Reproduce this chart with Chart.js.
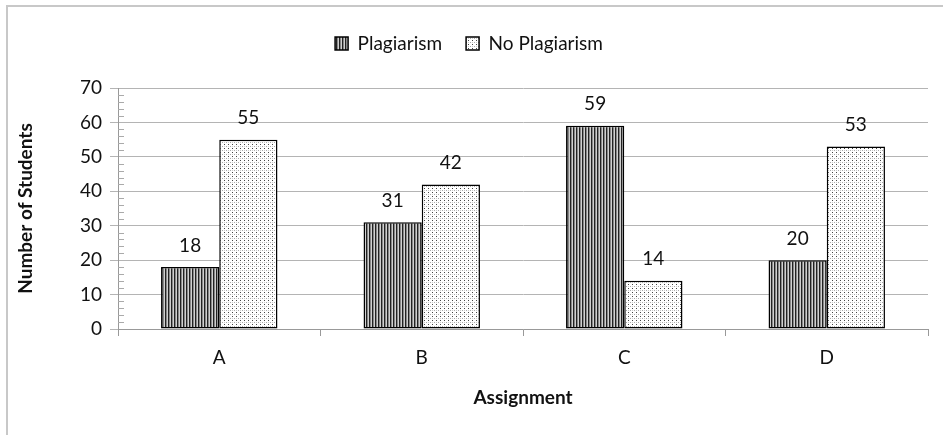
<!DOCTYPE html>
<html>
<head>
<meta charset="utf-8">
<script src="https://cdn.jsdelivr.net/npm/chart.js@4.4.1/dist/chart.umd.min.js"></script>
<style>
  html, body { margin: 0; padding: 0; background: #fff; }
  #wrap { width: 943px; height: 435px; }
</style>
</head>
<body>
<div id="wrap"><canvas id="chart" width="943" height="435"></canvas></div>
<script>
// --- dados ---
const assignments = ['A', 'B', 'C', 'D'];
const plagiarism = [18, 31, 59, 20];
const noPlagiarism = [55, 42, 14, 53];
const yTicks = [0, 10, 20, 30, 40, 50, 60, 70];

const FONT = 'Lato, "Open Sans", sans-serif';
const FS = 19;

// padrão listrado (Plagiarism)
function stripePattern() {
    const c = document.createElement('canvas');
    c.width = 3; c.height = 3;
    const g = c.getContext('2d');
    g.fillStyle = '#d0d0d0'; g.fillRect(0, 0, 3, 3);
    g.fillStyle = '#222'; g.fillRect(0, 0, 1, 3);
    g.fillStyle = '#888'; g.fillRect(1, 0, 1, 3);
    return g.createPattern(c, 'repeat');
}

// padrão pontilhado (No Plagiarism)
function dotPattern() {
    const c = document.createElement('canvas');
    c.width = 4; c.height = 4;
    const g = c.getContext('2d');
    g.fillStyle = '#fff'; g.fillRect(0, 0, 4, 4);
    g.fillStyle = '#444'; g.fillRect(0, 0, 1, 1);
    g.fillStyle = '#aaa'; g.fillRect(2, 2, 1, 1);
    g.fillStyle = '#ccc'; g.fillRect(0, 2, 1, 1);
    return g.createPattern(c, 'repeat');
}

// rótulos de valor acima das barras + marcas menores + borda
const extras = {
    id: 'extras',
    beforeDraw(chart) {
        const ctx = chart.ctx;
        ctx.save();
        ctx.strokeStyle = '#c8c8c8';
        ctx.lineWidth = 2;
        ctx.beginPath();
        ctx.moveTo(7, 435);
        ctx.lineTo(7, 6);
        ctx.lineTo(943, 6);
        ctx.stroke();
        ctx.restore();
    },
    afterDatasetsDraw(chart) {
        const ctx = chart.ctx;
        const y = chart.scales.y;
        ctx.save();
        // marcas menores
        ctx.strokeStyle = '#aaa';
        ctx.lineWidth = 1;
        for (let v = 0; v <= 70; v += 2) {
            if (v % 10 === 0) continue;
            const py = Math.round(y.getPixelForValue(v)) + 0.5;
            ctx.beginPath();
            ctx.moveTo(chart.chartArea.left, py);
            ctx.lineTo(chart.chartArea.left + 6, py);
            ctx.stroke();
        }
        // valores
        ctx.fillStyle = '#111';
        ctx.font = FS + 'px ' + FONT;
        ctx.textAlign = 'center';
        ctx.textBaseline = 'bottom';
        chart.data.datasets.forEach((ds, i) => {
            chart.getDatasetMeta(i).data.forEach((bar, j) => {
                ctx.fillText(String(ds.data[j]), bar.x, bar.y - 12);
            });
        });
        ctx.restore();
    }
};

const ctx = document.getElementById('chart').getContext('2d');
const chart = new Chart(ctx, {
    type: 'bar',
    data: {
        labels: assignments,
        datasets: [
            {
                label: 'Plagiarism',
                data: plagiarism,
                backgroundColor: stripePattern(),
                borderColor: '#000',
                borderWidth: 1.5,
                borderSkipped: false
            },
            {
                label: 'No Plagiarism',
                data: noPlagiarism,
                backgroundColor: dotPattern(),
                borderColor: '#000',
                borderWidth: 1.5,
                borderSkipped: false
            }
        ]
    },
    options: {
        responsive: false,
        animation: false,
        layout: { padding: { left: 10, right: 15, top: 10, bottom: 22 } },
        datasets: { bar: { categoryPercentage: 0.575, barPercentage: 1.0 } },
        plugins: {
            legend: {
                position: 'top',
                weight: 1600,
                labels: {
                    color: '#111',
                    font: { family: FONT, size: FS },
                    boxWidth: 13,
                    boxHeight: 13,
                    padding: 24
                }
            },
            // espaçador entre a legenda e o gráfico
            subtitle: {
                display: true,
                text: '',
                position: 'top',
                font: { size: 1, lineHeight: 1 },
                padding: { top: 0, bottom: 24 }
            },
            tooltip: { enabled: false }
        },
        scales: {
            x: {
                grid: {
                    offset: true,
                    drawOnChartArea: false,
                    color: '#999',
                    tickLength: 7
                },
                border: { color: '#999' },
                ticks: {
                    color: '#111',
                    font: { family: FONT, size: FS },
                    padding: 10
                },
                title: {
                    display: true,
                    text: 'Assignment',
                    color: '#111',
                    font: { family: FONT, size: FS, weight: 'bold' },
                    padding: { top: 10 }
                },
                afterFit(scale) { scale.height = 84; }
            },
            y: {
                min: 0,
                max: 70,
                afterBuildTicks(scale) {
                    scale.ticks = yTicks.map(v => ({ value: v }));
                },
                grid: { color: '#b4b4b4', tickLength: 8 },
                border: { color: '#999' },
                ticks: {
                    color: '#111',
                    font: { family: FONT, size: FS },
                    padding: 8
                },
                title: {
                    display: true,
                    text: 'Number of Students',
                    color: '#111',
                    font: { family: FONT, size: FS, weight: 'bold' }
                },
                afterFit(scale) { scale.width = 108; }
            }
        }
    },
    plugins: [extras]
});
</script>
</body>
</html>
